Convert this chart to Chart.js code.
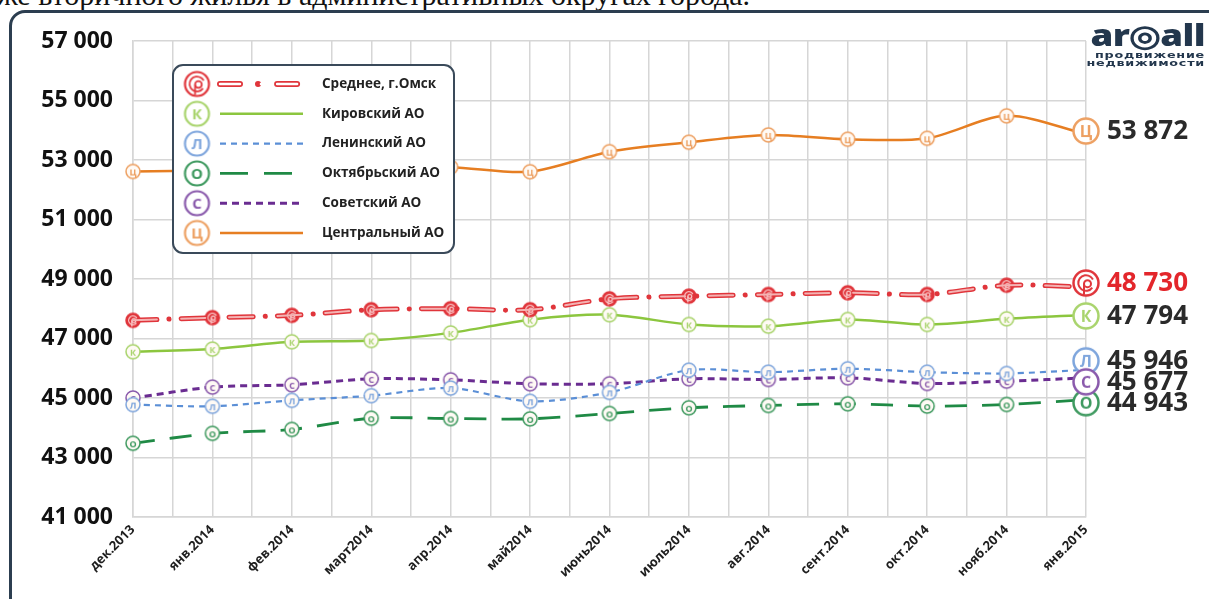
<!DOCTYPE html>
<html lang="ru">
<head>
<meta charset="utf-8">
<title>Цены вторичного жилья, Омск</title>
<script src="https://cdn.jsdelivr.net/npm/chart.js@4/dist/chart.umd.min.js"></script>
<style>
  html, body { margin: 0; padding: 0; background: #fff; }
  body { width: 1209px; height: 599px; position: relative; overflow: hidden; }
  #topText {
    position: absolute; left: -3px; top: -20px; white-space: nowrap;
    font-family: "Liberation Serif", serif; font-size: 30px; line-height: 30px; color: #111;
  }
  #frame {
    position: absolute; left: 9px; top: 10px; width: 1240px; height: 640px;
    border: 3px solid #2c3e50; border-radius: 16px; background: #fff;
  }
  #wrap { position: absolute; left: 0; top: 0; width: 1209px; height: 599px; }
  #logo { position: absolute; left: 1060px; top: 21px; width: 145px; color: #23374d; }
  #logo .big { font-family: "Open Sans", sans-serif; font-weight: 800; font-size: 30px; line-height: 28px; letter-spacing: -0.5px; text-align: right; transform: scaleX(1.22); transform-origin: right center; }
  #logo .small { font-family: "DejaVu Sans", sans-serif; font-weight: bold; font-size: 8.5px; line-height: 8px; letter-spacing: 0.5px; text-align: right; margin-top: 2px; transform: scaleX(1.5); transform-origin: right center; }
</style>
</head>
<body>
<div id="topText">же вторичного жилья в административных округах города.</div>
<div id="frame"></div>
<div id="wrap"><canvas id="chart" width="1209" height="599"></canvas></div>
<div id="logo">
  <div class="big">ar◎all</div>
  <div class="small">продвижение<br>недвижимости</div>
</div>
<script>
// months on the x axis
const months = ["дек.2013", "янв.2014", "фев.2014", "март2014", "апр.2014", "май2014", "июнь2014",
                "июль2014", "авг.2014", "сент.2014", "окт.2014", "нояб.2014", "янв.2015"];

// price per sq.m, rub (last value = labelled value)
const avgOmsk    = [47611, 47700, 47778, 47967, 48000, 47967, 48333, 48423, 48480, 48537, 48480, 48790, 48730];
const kirovsky   = [46556, 46644, 46889, 46933, 47189, 47633, 47800, 47471, 47415, 47640, 47471, 47663, 47794];
const leninsky   = [44778, 44722, 44922, 45078, 45333, 44889, 45189, 45936, 45869, 45983, 45869, 45825, 45946];
const oktyabrsky = [43478, 43811, 43944, 44320, 44310, 44300, 44480, 44672, 44749, 44806, 44727, 44783, 44943];
const sovetsky   = [45000, 45367, 45444, 45644, 45611, 45478, 45478, 45646, 45623, 45680, 45489, 45566, 45677];
const tsentralny = [52614, 52650, 52700, 52740, 52760, 52607, 53280, 53597, 53843, 53698, 53731, 54484, 53872];

const seriesNames = ["Среднее, г.Омск", "Кировский АО", "Ленинский АО", "Октябрьский АО", "Советский АО", "Центральный АО"];
const seriesData  = [avgOmsk, kirovsky, leninsky, oktyabrsky, sovetsky, tsentralny];
const seriesLetters = ["Ср", "К", "Л", "О", "С", "Ц"];

const yTicks = { min: 41000, max: 57000, step: 2000 };

// styles
const styles = [
  { color: "#e0353b", light: "#f4b3b3", width: 5, dash: [24, 12, 0.1, 12], cap: "round", endColor: "#e3262b", endShift: -4 },
  { color: "#8cc63f", light: "#a9d46d", width: 2.5, dash: [], cap: "butt", endColor: "#2a2a2a", endShift: 1 },
  { color: "#5b8fd6", light: "#7fa6dd", width: 2.2, dash: [6, 5], cap: "butt", endColor: "#2a2a2a", endShift: -9 },
  { color: "#1f8a45", light: "#3f9a60", width: 2.8, dash: [22, 15], cap: "butt", endColor: "#2a2a2a", endShift: 3 },
  { color: "#6a2c91", light: "#8a5aac", width: 3, dash: [7, 5], cap: "butt", endColor: "#2a2a2a", endShift: 4 },
  { color: "#e67e22", light: "#eda062", width: 2.5, dash: [], cap: "butt", endColor: "#2a2a2a", endShift: -3 }
];

function fmt(v) {
  return String(v).replace(/\B(?=(\d{3})+(?!\d))/g, " ");
}

// circle markers with a letter in them
function makeIcon(letter, color, r, lw, fontPx, fill, solid) {
  const c = document.createElement("canvas");
  const s = Math.ceil(r * 2 + lw + 2);
  c.width = c.height = s;
  const g = c.getContext("2d");
  const cx = s / 2, cy = s / 2;
  g.beginPath();
  g.arc(cx, cy, r, 0, Math.PI * 2);
  g.fillStyle = solid ? color : fill;
  g.fill();
  g.lineWidth = lw;
  g.strokeStyle = color;
  g.stroke();
  if (letter === "Ср") {
    const ink = solid ? "#fbd0d0" : color;
    g.strokeStyle = ink;
    g.lineWidth = Math.max(1, lw * 0.8);
    g.beginPath();
    g.arc(cx, cy, r * 0.62, 0.2 * Math.PI, 1.85 * Math.PI);
    g.stroke();
    g.beginPath();
    g.arc(cx + r * 0.12, cy + r * 0.05, r * 0.28, 0, Math.PI * 2);
    g.stroke();
    g.beginPath();
    g.moveTo(cx - r * 0.16, cy + r * 0.05);
    g.lineTo(cx - r * 0.16, cy + r * 0.9);
    g.stroke();
  } else {
    g.fillStyle = color;
    g.font = "bold " + fontPx + "px 'Open Sans', sans-serif";
    g.textAlign = "center";
    g.textBaseline = "middle";
    g.fillText(letter, cx, cy + 1);
  }
  return c;
}

const smallIcons = styles.map((st, i) => makeIcon(seriesLetters[i], i === 0 ? st.color : st.light, 7, 1.5, 9, "#fffaf5", i === 0));
const bigIcons = styles.map((st, i) => makeIcon(seriesLetters[i], i === 0 ? st.color : st.light, 12.5, 2.5, 16, "#fff", false));
const legendIcons = styles.map((st, i) => makeIcon(seriesLetters[i], i === 0 ? st.color : st.light, 12, 2.2, 15, "#fff", false));

function toPoints(arr) {
  return arr.map((v, i) => ({ x: i, y: v }));
}

const lastIdx = months.length - 1;

const datasets = [];
// inner highlight of the average line (drawn on top of the red one)
datasets.push({
  label: "inner",
  data: toPoints(avgOmsk),
  borderColor: styles[0].light,
  borderWidth: 2,
  borderDash: [24, 24.1],
  borderCapStyle: "round",
  pointRadius: 0,
  tension: 0.3,
  clip: false,
  order: 0
});
seriesData.forEach((arr, i) => {
  const st = styles[i];
  datasets.push({
    label: seriesNames[i],
    data: toPoints(arr),
    borderColor: st.color,
    borderWidth: st.width,
    borderDash: st.dash,
    borderCapStyle: st.cap,
    tension: 0.3,
    pointStyle: smallIcons[i],
    pointRadius: ctx => (ctx.dataIndex === lastIdx ? 0 : 7),
    clip: false,
    order: i === 0 ? 1 : 2
  });
});

// end markers + value labels
const endLabels = {
  id: "endLabels",
  afterDatasetsDraw(chart) {
    const g = chart.ctx;
    g.save();
    seriesData.forEach((arr, i) => {
      const meta = chart.getDatasetMeta(i + 1);
      const pt = meta.data[lastIdx];
      const y = pt.y + styles[i].endShift;
      const ic = bigIcons[i];
      g.drawImage(ic, pt.x - ic.width / 2, y - ic.height / 2);
      g.font = "bold 26px 'Open Sans', sans-serif";
      g.fillStyle = styles[i].endColor;
      g.textAlign = "left";
      g.textBaseline = "middle";
      g.fillText(fmt(arr[lastIdx]), pt.x + 21, y + 1);
    });
    g.restore();
  }
};

// boxed legend inside the plot
const boxLegend = {
  id: "boxLegend",
  afterDatasetsDraw(chart, args, o) {
    const g = chart.ctx;
    g.save();
    g.beginPath();
    g.roundRect(o.x, o.y, o.w, o.h, o.radius);
    g.fillStyle = "#fff";
    g.fill();
    g.lineWidth = 2;
    g.strokeStyle = "#3a4a5a";
    g.stroke();
    seriesNames.forEach((name, i) => {
      const st = styles[i];
      const y = o.y + o.firstRow + i * o.rowGap;
      const ic = legendIcons[i];
      g.drawImage(ic, o.iconX - ic.width / 2, y - ic.height / 2);
      g.beginPath();
      g.moveTo(o.lineX1, y);
      g.lineTo(o.lineX2, y);
      if (i === 0) {
        g.lineWidth = 6;
        g.lineCap = "round";
        g.setLineDash([20, 18, 0.1, 19]);
        g.strokeStyle = st.color;
        g.stroke();
        g.lineWidth = 2.5;
        g.setLineDash([20, 37.1]);
        g.strokeStyle = "#fff";
        g.stroke();
        g.beginPath();
        g.arc(o.lineX1 + 41, y, 1.3, 0, Math.PI * 2);
        g.fillStyle = "#fff";
        g.fill();
      } else {
        g.lineWidth = st.width;
        g.lineCap = "butt";
        g.setLineDash(i === 3 ? [28, 16] : st.dash);
        g.strokeStyle = st.color;
        g.stroke();
      }
      g.setLineDash([]);
      g.font = "bold 13.5px 'Open Sans', sans-serif";
      g.fillStyle = "#222";
      g.textAlign = "left";
      g.textBaseline = "middle";
      g.fillText(name, o.textX, y);
    });
    g.restore();
  }
};

new Chart(document.getElementById("chart"), {
  type: "line",
  data: { datasets: datasets },
  plugins: [endLabels, boxLegend],
  options: {
    responsive: false,
    animation: false,
    events: [],
    layout: { padding: { left: 0, top: 41, right: 123, bottom: 0 } },
    scales: {
      x: {
        type: "linear",
        min: 0,
        max: lastIdx,
        afterFit: s => { s.height = 82; },
        grid: { color: "#d6d6d6", lineWidth: 1.5, drawTicks: false },
        border: { color: "#d6d6d6", width: 1.5 },
        ticks: {
          stepSize: 0.5,
          autoSkip: false,
          minRotation: 45,
          maxRotation: 45,
          padding: 5,
          color: "#1e1e1e",
          font: { family: "'Open Sans', sans-serif", size: 13, weight: "bold" },
          callback: v => (Number.isInteger(v) ? months[v] : "")
        }
      },
      y: {
        min: yTicks.min,
        max: yTicks.max,
        afterFit: s => { s.width = 133; },
        grid: { color: "#d6d6d6", lineWidth: 1.5, drawTicks: false },
        border: { color: "#d6d6d6", width: 1.5 },
        ticks: {
          stepSize: yTicks.step,
          padding: 20,
          color: "#111",
          font: { family: "'Open Sans', sans-serif", size: 23, weight: "bold" },
          callback: v => fmt(v)
        }
      }
    },
    plugins: {
      legend: { display: false },
      tooltip: { enabled: false },
      boxLegend: {
        x: 173, y: 65, w: 281, h: 188, radius: 10,
        firstRow: 19, rowGap: 29.8,
        iconX: 197, lineX1: 220, lineX2: 303, textX: 322
      }
    }
  }
});
</script>
</body>
</html>
